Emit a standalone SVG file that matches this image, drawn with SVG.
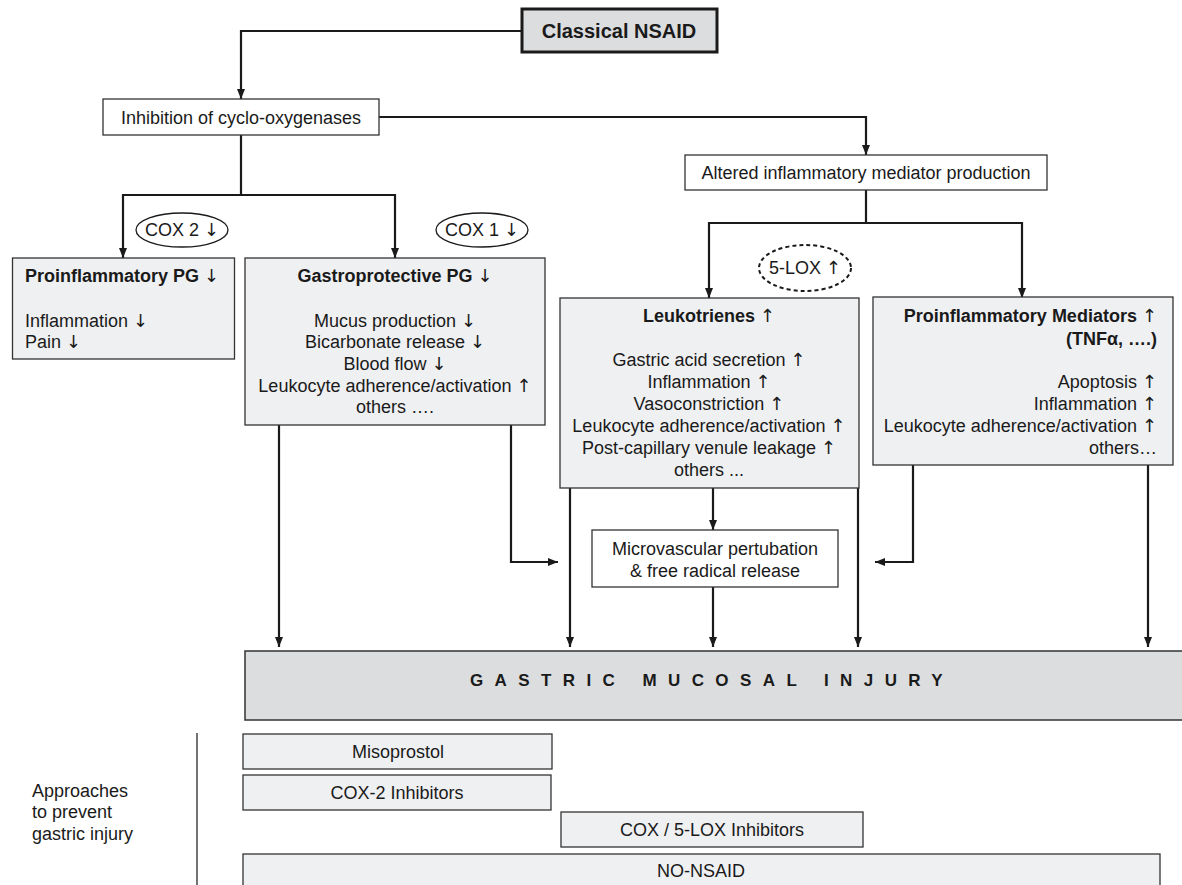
<svg xmlns="http://www.w3.org/2000/svg" width="1182" height="885" viewBox="0 0 1182 885">
<style>
text{font-family:"Liberation Sans",Arial,"DejaVu Sans",sans-serif;font-size:18px;fill:#1a1a1a}
.b{font-weight:bold}
.m{text-anchor:middle}
.e{text-anchor:end}
.ar{font-family:"DejaVu Sans",sans-serif;font-weight:normal;fill:#1a1a1a}
.wbox{fill:#ffffff;stroke:#333;stroke-width:1.3}
.gbox{fill:#eff0f2;stroke:#333;stroke-width:1.3}
.dbox{fill:#dcdddf;stroke:#333;stroke-width:1.5}
.conn path{fill:none;stroke:#1a1a1a;stroke-width:2.2}
.ell{fill:#fff;stroke:#1a1a1a;stroke-width:1.3}
</style>
<defs>
<marker id="ah" viewBox="0 0 10 8" refX="10" refY="4" markerWidth="10" markerHeight="8" markerUnits="userSpaceOnUse" orient="auto">
<path d="M0,0 L10,4 L0,8 z" fill="#1a1a1a"/>
</marker>
</defs>
<rect width="1182" height="885" fill="#fff"/>

<g id="conn" class="conn">
<path d="M522,31 H241 V99" marker-end="url(#ah)"/>
<path d="M379,117 H866 V155" marker-end="url(#ah)"/>
<path d="M241,135 V195 H123 V258" marker-end="url(#ah)"/>
<path d="M241,195 H395 V258" marker-end="url(#ah)"/>
<path d="M866,190 V223 H709 V298" marker-end="url(#ah)"/>
<path d="M866,223 H1022 V298" marker-end="url(#ah)"/>
<path d="M279,425 V647" marker-end="url(#ah)"/>
<path d="M511,425 V562 H558" marker-end="url(#ah)"/>
<path d="M570,488 V647" marker-end="url(#ah)"/>
<path d="M713,488 V530" marker-end="url(#ah)"/>
<path d="M713,587 V647" marker-end="url(#ah)"/>
<path d="M858,488 V647" marker-end="url(#ah)"/>
<path d="M913,465 V562 H875" marker-end="url(#ah)"/>
<path d="M1148,465 V647" marker-end="url(#ah)"/>
<path d="M197,733 V885" style="stroke:#444;stroke-width:1.5"/>
</g>

<g id="classical">
<rect x="522" y="9" width="195" height="43" fill="#dcdddf" stroke="#1a1a1a" stroke-width="3"/>
<text x="619" y="38" class="b m" style="font-size:20px">Classical NSAID</text>
</g>

<g id="inhibition">
<rect x="103" y="99" width="276" height="36" class="wbox"/>
<text x="241" y="124" class="m">Inhibition of cyclo-oxygenases</text>
</g>

<g id="altered">
<rect x="685" y="155" width="362" height="35" class="wbox"/>
<text x="866" y="179" class="m">Altered inflammatory mediator production</text>
</g>

<g id="cox2">
<ellipse cx="182" cy="230" rx="46" ry="17" class="ell"/>
<text x="182" y="236" class="m">COX 2 <tspan class="ar">↓</tspan></text>
</g>

<g id="cox1">
<ellipse cx="482" cy="230" rx="46" ry="17" class="ell"/>
<text x="482" y="236" class="m">COX 1 <tspan class="ar">↓</tspan></text>
</g>

<g id="lox">
<ellipse cx="805" cy="268" rx="46" ry="23" class="ell" stroke-dasharray="4,3" style="stroke-width:2"/>
<text x="805" y="274" class="m">5-LOX <tspan class="ar">↑</tspan></text>
</g>

<g id="proPG">
<rect x="12.5" y="258" width="222" height="101" class="gbox"/>
<text x="25" y="282" class="b">Proinflammatory PG <tspan class="ar">↓</tspan></text>
<text x="25" y="327">Inflammation <tspan class="ar">↓</tspan></text>
<text x="25" y="348">Pain <tspan class="ar">↓</tspan></text>
</g>

<g id="gastroPG">
<rect x="245" y="258" width="300" height="167" class="gbox"/>
<text x="395" y="282" class="b m">Gastroprotective PG <tspan class="ar">↓</tspan></text>
<text x="395" y="327" class="m">Mucus production <tspan class="ar">↓</tspan></text>
<text x="395" y="348" class="m">Bicarbonate release <tspan class="ar">↓</tspan></text>
<text x="395" y="370" class="m">Blood flow <tspan class="ar">↓</tspan></text>
<text x="395" y="392" class="m">Leukocyte adherence/activation <tspan class="ar">↑</tspan></text>
<text x="395" y="413" class="m">others ….</text>
</g>

<g id="leukotrienes">
<rect x="560" y="298" width="299" height="190" class="gbox"/>
<text x="709" y="322" class="b m">Leukotrienes <tspan class="ar">↑</tspan></text>
<text x="709" y="366" class="m">Gastric acid secretion <tspan class="ar">↑</tspan></text>
<text x="709" y="388" class="m">Inflammation <tspan class="ar">↑</tspan></text>
<text x="709" y="410" class="m">Vasoconstriction <tspan class="ar">↑</tspan></text>
<text x="709" y="432" class="m">Leukocyte adherence/activation <tspan class="ar">↑</tspan></text>
<text x="709" y="454" class="m">Post-capillary venule leakage <tspan class="ar">↑</tspan></text>
<text x="709" y="476" class="m">others ...</text>
</g>

<g id="mediators">
<rect x="873" y="297" width="300" height="168" class="gbox"/>
<text x="1157" y="322" class="b e">Proinflammatory Mediators <tspan class="ar">↑</tspan></text>
<text x="1157" y="345" class="b e">(TNFα, ….)</text>
<text x="1157" y="388" class="e">Apoptosis <tspan class="ar">↑</tspan></text>
<text x="1157" y="410" class="e">Inflammation <tspan class="ar">↑</tspan></text>
<text x="1157" y="432" class="e">Leukocyte adherence/activation <tspan class="ar">↑</tspan></text>
<text x="1157" y="454" class="e">others…</text>
</g>

<g id="microvascular">
<rect x="592" y="530" width="246" height="57" class="wbox"/>
<text x="715" y="555" class="m">Microvascular pertubation</text>
<text x="715" y="577" class="m">&amp; free radical release</text>
</g>

<g id="injury">
<rect x="245" y="651" width="950" height="69" class="dbox"/>
<text x="470" y="686" class="b" style="font-size:17px;letter-spacing:11.4px">GASTRIC MUCOSAL INJURY</text>
</g>

<g id="approaches">
<text x="32" y="797">Approaches</text>
<text x="32" y="818">to prevent</text>
<text x="32" y="840">gastric injury</text>
</g>

<g id="misoprostol">
<rect x="243" y="734" width="309" height="35" class="gbox"/>
<text x="398" y="758" class="m">Misoprostol</text>
</g>

<g id="cox2inh">
<rect x="243" y="775" width="308" height="35" class="gbox"/>
<text x="397" y="799" class="m">COX-2 Inhibitors</text>
</g>

<g id="coxlox">
<rect x="561" y="812" width="302" height="35" class="gbox"/>
<text x="712" y="836" class="m">COX / 5-LOX Inhibitors</text>
</g>

<g id="nonsaid">
<rect x="243" y="854" width="917" height="40" class="gbox"/>
<text x="701" y="877" class="m">NO-NSAID</text>
</g>
</svg>
